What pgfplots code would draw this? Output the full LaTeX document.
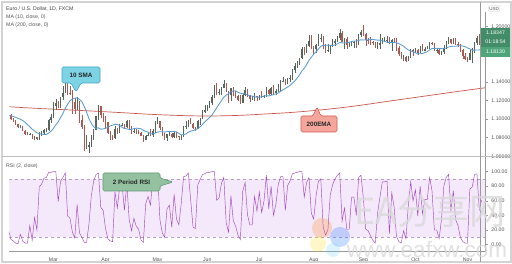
\documentclass[border=0pt]{standalone}
\usepackage{pgfplots}
\usepackage{pgfplotstable}
\pgfplotsset{compat=1.18}
\usepackage{fontspec}
\setmainfont{Liberation Sans}
\newfontfamily\cjk{Noto Sans CJK SC}
\definecolor{upc}{HTML}{56665A}
\definecolor{dnc}{HTML}{A85A52}
\definecolor{smac}{HTML}{5B9BD0}
\definecolor{emac}{HTML}{C9574A}
\definecolor{rsic}{HTML}{A246C0}
\definecolor{bandc}{HTML}{F4E8FB}
\definecolor{bandl}{HTML}{B9A0C8}
\definecolor{axc}{HTML}{9A9A9A}
\definecolor{txc}{HTML}{555555}
\definecolor{framec}{HTML}{D3D3D3}
\definecolor{smabox}{HTML}{7DD3E4}
\definecolor{smabd}{HTML}{3BA9C4}
\definecolor{emabox}{HTML}{F4A69D}
\definecolor{emabd}{HTML}{D45A4E}
\definecolor{rsibox}{HTML}{94C2A0}
\definecolor{rsibd}{HTML}{5E9A70}
\definecolor{pricec}{HTML}{4FA57A}
\newcommand{\tv}{\fontsize{5.2}{6}\selectfont}

\pgfplotstableread{
x o h l c s r
0 1.1093 1.1100 1.1040 1.1060 1.1049 33
1 1.1060 1.1065 1.1020 1.1045 1.1045 22
2 1.1045 1.1050 1.0990 1.1000 1.1036 7
3 1.1000 1.1015 1.0970 1.0980 1.1028 5
4 1.0980 1.0990 1.0940 1.0945 1.1020 2
5 1.0945 1.0950 1.0905 1.0910 1.1009 1
6 1.0910 1.0935 1.0900 1.0915 1.0999 14
7 1.0915 1.0925 1.0870 1.0875 1.0985 5
8 1.0875 1.0880 1.0830 1.0840 1.0966 2
9 1.0840 1.0865 1.0825 1.0830 1.0940 2
10 1.0830 1.0850 1.0825 1.0837 1.0918 26
11 1.0837 1.0845 1.0785 1.0790 1.0892 6
12 1.0790 1.0815 1.0780 1.0805 1.0873 37
13 1.0805 1.0810 1.0778 1.0785 1.0853 20
14 1.0785 1.0865 1.0780 1.0846 1.0843 79
15 1.0846 1.0870 1.0815 1.0855 1.0838 83
16 1.0855 1.0890 1.0840 1.0880 1.0834 91
17 1.0880 1.0905 1.0860 1.0883 1.0835 92
18 1.0883 1.1000 1.0875 1.0995 1.0851 99
19 1.0995 1.1055 1.0960 1.1027 1.0870 99
20 1.1027 1.1185 1.1010 1.1137 1.0900 100
21 1.1137 1.1215 1.1100 1.1175 1.0939 100
22 1.1175 1.1195 1.1115 1.1135 1.0972 59
23 1.1135 1.1240 1.1125 1.1237 1.1017 87
24 1.1237 1.1355 1.1210 1.1284 1.1061 92
25 1.1284 1.1496 1.1280 1.1450 1.1120 98
26 1.1450 1.1455 1.1260 1.1280 1.1160 39
27 1.1280 1.1355 1.1260 1.1268 1.1199 36
28 1.1268 1.1310 1.1055 1.1180 1.1217 17
29 1.1180 1.1225 1.1055 1.1105 1.1225 9
30 1.1105 1.1240 1.1095 1.1185 1.1230 55
31 1.1185 1.1195 1.0960 1.0995 1.1212 16
32 1.0995 1.1045 1.0895 1.0918 1.1190 10
33 1.0918 1.0935 1.0655 1.0695 1.1136 3
34 1.0695 1.0830 1.0675 1.0695 1.1077 3
35 1.0695 1.0750 1.0636 1.0723 1.1004 28
36 1.0723 1.0830 1.0700 1.0790 1.0955 67
37 1.0790 1.0890 1.0770 1.0885 1.0917 87
38 1.0885 1.1035 1.0880 1.1030 1.0902 96
39 1.1030 1.1147 1.0995 1.1140 1.0906 98
40 1.1140 1.1145 1.1010 1.1040 1.0891 51
41 1.1040 1.1065 1.0970 1.1030 1.0895 47
42 1.1030 1.1035 1.0905 1.0965 1.0899 22
43 1.0965 1.0970 1.0845 1.0855 1.0915 8
44 1.0855 1.0870 1.0780 1.0805 1.0926 5
45 1.0805 1.0830 1.0770 1.0795 1.0935 4
46 1.0795 1.0925 1.0790 1.0890 1.0944 72
47 1.0890 1.0905 1.0835 1.0860 1.0941 50
48 1.0860 1.0950 1.0855 1.0935 1.0932 80
49 1.0935 1.0955 1.0925 1.0940 1.0912 82
50 1.0940 1.0950 1.0900 1.0915 1.0899 47
51 1.0915 1.0990 1.0900 1.0985 1.0895 84
52 1.0985 1.0990 1.0880 1.0910 1.0889 34
53 1.0910 1.0925 1.0840 1.0860 1.0890 19
54 1.0860 1.0895 1.0855 1.0875 1.0897 36
55 1.0875 1.0890 1.0845 1.0860 1.0903 25
56 1.0860 1.0885 1.0840 1.0855 1.0900 21
57 1.0855 1.0865 1.0815 1.0820 1.0896 6
58 1.0820 1.0830 1.0757 1.0780 1.0880 3
59 1.0780 1.0830 1.0770 1.0820 1.0868 56
60 1.0820 1.0865 1.0815 1.0830 1.0860 66
61 1.0830 1.0890 1.0815 1.0825 1.0844 54
62 1.0825 1.0895 1.0810 1.0875 1.0840 90
63 1.0875 1.0975 1.0850 1.0955 1.0850 97
64 1.0955 1.1020 1.0950 1.0980 1.0860 98
65 1.0980 1.0985 1.0880 1.0905 1.0865 34
66 1.0905 1.0915 1.0820 1.0835 1.0863 16
67 1.0835 1.0850 1.0780 1.0795 1.0860 10
68 1.0795 1.0845 1.0765 1.0835 1.0866 49
69 1.0835 1.0875 1.0820 1.0840 1.0868 54
70 1.0840 1.0850 1.0795 1.0807 1.0865 24
71 1.0807 1.0865 1.0800 1.0850 1.0868 69
72 1.0850 1.0860 1.0795 1.0815 1.0862 35
73 1.0815 1.0820 1.0775 1.0805 1.0847 27
74 1.0805 1.0830 1.0780 1.0820 1.0831 56
75 1.0820 1.0925 1.0810 1.0920 1.0832 93
76 1.0920 1.0975 1.0890 1.0925 1.0841 94
77 1.0925 1.0995 1.0915 1.0975 1.0859 98
78 1.0975 1.1010 1.0945 1.0950 1.0871 61
79 1.0950 1.0955 1.0890 1.0900 1.0877 24
80 1.0900 1.0910 1.0875 1.0895 1.0886 22
81 1.0895 1.0990 1.0890 1.0975 1.0898 82
82 1.0975 1.1010 1.0935 1.1005 1.0917 89
83 1.1005 1.1095 1.1000 1.1075 1.0944 96
84 1.1075 1.1147 1.1070 1.1100 1.0972 97
85 1.1100 1.1155 1.1090 1.1135 1.0994 99
86 1.1135 1.1195 1.1115 1.1170 1.1018 99
87 1.1170 1.1255 1.1150 1.1235 1.1044 100
88 1.1235 1.1365 1.1225 1.1340 1.1083 100
89 1.1340 1.1385 1.1255 1.1290 1.1122 61
90 1.1290 1.1325 1.1260 1.1295 1.1162 64
91 1.1295 1.1350 1.1265 1.1340 1.1199 84
92 1.1340 1.1422 1.1330 1.1375 1.1236 92
93 1.1375 1.1385 1.1295 1.1300 1.1258 30
94 1.1300 1.1305 1.1170 1.1255 1.1274 17
95 1.1255 1.1335 1.1200 1.1330 1.1293 67
96 1.1330 1.1350 1.1245 1.1265 1.1303 33
97 1.1265 1.1300 1.1230 1.1245 1.1304 25
98 1.1245 1.1260 1.1200 1.1205 1.1290 13
99 1.1205 1.1255 1.1168 1.1175 1.1279 7
100 1.1175 1.1270 1.1170 1.1260 1.1275 73
101 1.1260 1.1350 1.1245 1.1310 1.1272 85
102 1.1310 1.1320 1.1240 1.1250 1.1260 41
103 1.1250 1.1255 1.1185 1.1220 1.1252 27
104 1.1220 1.1250 1.1205 1.1220 1.1248 27
105 1.1220 1.1285 1.1200 1.1245 1.1240 66
106 1.1245 1.1250 1.1190 1.1235 1.1237 46
107 1.1235 1.1260 1.1205 1.1250 1.1237 72
108 1.1250 1.1305 1.1225 1.1240 1.1241 44
109 1.1240 1.1255 1.1225 1.1245 1.1248 60
110 1.1245 1.1345 1.1240 1.1310 1.1253 95
111 1.1310 1.1325 1.1260 1.1275 1.1249 49
112 1.1275 1.1345 1.1260 1.1330 1.1257 80
113 1.1330 1.1370 1.1270 1.1285 1.1264 40
114 1.1285 1.1325 1.1260 1.1300 1.1272 55
115 1.1300 1.1375 1.1295 1.1345 1.1282 82
116 1.1345 1.1420 1.1300 1.1410 1.1299 93
117 1.1410 1.1450 1.1395 1.1410 1.1315 93
118 1.1410 1.1430 1.1370 1.1385 1.1330 47
119 1.1385 1.1445 1.1375 1.1430 1.1348 81
120 1.1430 1.1470 1.1400 1.1445 1.1362 87
121 1.1445 1.1540 1.1420 1.1525 1.1387 97
122 1.1525 1.1600 1.1500 1.1570 1.1411 98
123 1.1570 1.1625 1.1555 1.1595 1.1442 99
124 1.1595 1.1660 1.1585 1.1655 1.1477 100
125 1.1655 1.1780 1.1650 1.1755 1.1518 100
126 1.1755 1.1780 1.1690 1.1715 1.1549 65
127 1.1715 1.1805 1.1710 1.1790 1.1587 85
128 1.1790 1.1910 1.1780 1.1845 1.1633 92
129 1.1845 1.1905 1.1760 1.1775 1.1667 43
130 1.1775 1.1790 1.1695 1.1760 1.1699 35
131 1.1760 1.1810 1.1710 1.1800 1.1726 67
132 1.1800 1.1915 1.1790 1.1860 1.1755 87
133 1.1860 1.1915 1.1835 1.1875 1.1783 90
134 1.1875 1.1890 1.1755 1.1785 1.1796 24
135 1.1785 1.1805 1.1710 1.1735 1.1794 13
136 1.1735 1.1805 1.1725 1.1740 1.1797 20
137 1.1740 1.1795 1.1705 1.1785 1.1796 68
138 1.1785 1.1865 1.1775 1.1815 1.1793 82
139 1.1815 1.1865 1.1790 1.1840 1.1800 90
140 1.1840 1.1895 1.1830 1.1870 1.1811 95
141 1.1870 1.1966 1.1855 1.1930 1.1824 98
142 1.1930 1.1950 1.1830 1.1835 1.1821 32
143 1.1835 1.1875 1.1755 1.1860 1.1820 50
144 1.1860 1.1885 1.1755 1.1795 1.1821 21
145 1.1795 1.1835 1.1780 1.1795 1.1827 21
146 1.1795 1.1835 1.1785 1.1830 1.1836 65
147 1.1830 1.1840 1.1770 1.1830 1.1840 65
148 1.1830 1.1865 1.1765 1.1820 1.1841 40
149 1.1820 1.1915 1.1800 1.1905 1.1847 92
150 1.1905 1.1965 1.1885 1.1935 1.1854 95
151 1.1935 1.2011 1.1900 1.1915 1.1852 63
152 1.1915 1.1925 1.1790 1.1855 1.1854 21
153 1.1855 1.1870 1.1810 1.1850 1.1853 19
154 1.1850 1.1885 1.1795 1.1835 1.1857 12
155 1.1835 1.1840 1.1800 1.1815 1.1859 6
156 1.1815 1.1830 1.1765 1.1780 1.1854 2
157 1.1780 1.1830 1.1755 1.1800 1.1851 43
158 1.1800 1.1915 1.1755 1.1815 1.1851 65
159 1.1815 1.1870 1.1810 1.1845 1.1845 86
160 1.1845 1.1885 1.1830 1.1845 1.1836 86
161 1.1845 1.1890 1.1825 1.1845 1.1829 87
162 1.1845 1.1880 1.1805 1.1815 1.1825 15
163 1.1815 1.1860 1.1735 1.1850 1.1825 71
164 1.1850 1.1870 1.1820 1.1840 1.1825 51
165 1.1840 1.1870 1.1735 1.1770 1.1821 11
166 1.1770 1.1785 1.1680 1.1705 1.1813 4
167 1.1705 1.1720 1.1650 1.1660 1.1799 2
168 1.1660 1.1690 1.1625 1.1670 1.1785 19
169 1.1670 1.1675 1.1612 1.1630 1.1763 8
170 1.1630 1.1685 1.1625 1.1665 1.1745 54
171 1.1665 1.1750 1.1655 1.1745 1.1735 86
172 1.1745 1.1755 1.1685 1.1720 1.1726 60
173 1.1720 1.1765 1.1710 1.1745 1.1715 75
174 1.1745 1.1750 1.1695 1.1715 1.1703 39
175 1.1715 1.1790 1.1710 1.1780 1.1704 80
176 1.1780 1.1805 1.1730 1.1735 1.1707 42
177 1.1735 1.1775 1.1730 1.1760 1.1717 62
178 1.1760 1.1785 1.1750 1.1760 1.1726 62
179 1.1760 1.1830 1.1755 1.1825 1.1745 92
180 1.1825 1.1830 1.1800 1.1815 1.1760 74
181 1.1815 1.1820 1.1735 1.1745 1.1760 20
182 1.1745 1.1770 1.1715 1.1745 1.1763 20
183 1.1745 1.1755 1.1690 1.1705 1.1759 8
184 1.1705 1.1735 1.1690 1.1718 1.1759 34
185 1.1718 1.1795 1.1705 1.1770 1.1758 80
186 1.1770 1.1840 1.1760 1.1820 1.1766 92
187 1.1820 1.1880 1.1805 1.1860 1.1776 96
188 1.1860 1.1865 1.1805 1.1815 1.1782 46
189 1.1815 1.1870 1.1810 1.1860 1.1785 74
190 1.1860 1.1870 1.1800 1.1810 1.1785 34
191 1.1810 1.1830 1.1780 1.1795 1.1790 26
192 1.1795 1.1805 1.1720 1.1745 1.1790 10
193 1.1745 1.1760 1.1650 1.1675 1.1787 4
194 1.1675 1.1710 1.1640 1.1645 1.1780 2
195 1.1645 1.1670 1.1620 1.1640 1.1767 2
196 1.1640 1.1745 1.1635 1.1715 1.1756 76
197 1.1715 1.1770 1.1603 1.1720 1.1742 79
198 1.1720 1.1830 1.1710 1.1825 1.1743 96
199 1.1825 1.1890 1.1795 1.1875 1.1745 97
200 1.1875 1.1920 1.1800 1.1815 1.1745 48
201 1.1815 1.1860 1.1805 1.1835 1.1749 61
}\data

\pgfplotsset{tvaxis/.style={scale only axis, width=476pt, xmin=1.4, xmax=202.6,
  axis line style={axc, line width=0.6pt}, tick style={axc, line width=0.5pt},
  tick label style={font=\tv, text=txc},
  /pgf/number format/assume math mode=true, tick align=outside}}

\begin{document}
\begin{tikzpicture}[x=1pt,y=1pt]
\useasboundingbox (0,0) rectangle (512,264);
\clip (0,0) rectangle (512,264);
\fill[white] (0,0) rectangle (512,264);

% ---------- price panel ----------
\begin{axis}[tvaxis, at={(4,109)}, anchor=south west, height=151pt,
  ymin=1.0530, ymax=1.2156, axis x line=none, axis y line*=right,
  xtick=\empty, ytick={1.06,1.08,1.10,1.12,1.14,1.20},
  major tick length=2.5pt,
  yticklabel style={/pgf/number format/.cd, fixed, fixed zerofill, precision=5}]
\addplot[emac, line width=0.7pt, no marks, smooth] coordinates {
(0,1.1135) (10,1.1120) (20,1.1107) (30,1.1095) (40,1.1082) (50,1.1068)
(60,1.1053) (70,1.1042) (80,1.1035) (90,1.1035) (100,1.1042) (110,1.1056)
(120,1.1071) (130,1.1092) (140,1.1118) (150,1.1150) (160,1.1187)
(170,1.1223) (180,1.1259) (190,1.1295) (202.6,1.1338)};
% wicks
\addplot[upc, line width=0.45pt, no marks, -,
  restrict expr to domain={\thisrow{c}-\thisrow{o}}{0:1},
  quiver={u=0, v={\thisrow{h}-\thisrow{l}}}]
  table[x=x, y=l] {\data};
\addplot[dnc, line width=0.45pt, no marks, -,
  restrict expr to domain={\thisrow{c}-\thisrow{o}}{-1:-0.00001},
  quiver={u=0, v={\thisrow{h}-\thisrow{l}}}]
  table[x=x, y=l] {\data};
% bodies
\addplot[upc, line width=1.25pt, no marks, -,
  restrict expr to domain={\thisrow{c}-\thisrow{o}}{0:1},
  quiver={u=0, v={max(\thisrow{c}-\thisrow{o},0.0002)}}]
  table[x=x, y=o] {\data};
\addplot[dnc, line width=1.25pt, no marks, -,
  restrict expr to domain={\thisrow{c}-\thisrow{o}}{-1:-0.00001},
  quiver={u=0, v={\thisrow{o}-\thisrow{c}}}]
  table[x=x, y=c] {\data};
% 10 SMA
\addplot[smac, line width=0.85pt, no marks] table[x=x, y=s] {\data};
\end{axis}

% ---------- RSI panel ----------
\begin{axis}[tvaxis, at={(4,17)}, anchor=south west, height=90pt,
  ymin=-9.6, ymax=113.7, axis x line*=bottom, axis y line*=right,
  xtick={20,42,64,85,107,130,151,173,195},
  xticklabels={Mar,Apr,May,Jun,Jul,Aug,Sep,Oct,Nov},
  xtick style={draw=none}, xticklabel style={yshift=-0.5pt},
  ytick={0,20,40,60,80,100}, major tick length=2.5pt,
  yticklabel style={/pgf/number format/.cd, fixed, fixed zerofill, precision=2}]
\addplot[draw=none, fill=bandc] coordinates {(1.4,10) (202.6,10) (202.6,90) (1.4,90)};
\addplot[bandl, dashed, line width=0.4pt] coordinates {(1.4,90) (202.6,90)};
\addplot[bandl, dashed, line width=0.4pt] coordinates {(1.4,10) (202.6,10)};
\addplot[rsic, line width=0.45pt, no marks] table[x=x, y=r] {\data};
\end{axis}

% ---------- frame and separators ----------
\draw[framec, line width=1.3pt] (2,2) rectangle (511,262);
\draw[framec!90!black, line width=1.3pt] (2,107.5) -- (511,107.5);
\draw[axc, line width=0.6pt] (480,2) -- (480,262);

% ---------- header texts ----------
\node[anchor=west, font=\tv, text=black!75, inner sep=0] at (6,255) {Euro / U.S. Dollar, 1D, FXCM};
\node[anchor=west, font=\tv, text=txc, inner sep=0] at (6,247) {MA (10, close, 0)};
\node[anchor=west, font=\tv, text=txc, inner sep=0] at (6,239) {MA (200, close, 0)};
\node[anchor=west, font=\tv, text=txc, inner sep=0] at (6,98) {RSI (2, close)};
\node[draw=framec, font=\fontsize{4.5}{5}\selectfont, text=txc, inner sep=1pt, rounded corners=1pt] at (494,255.5) {USD};

% ---------- price labels ----------
\fill[pricec!85!black] (481,217) rectangle (510,236);
\fill[pricec] (481,207) rectangle (510,216.6);
\node[font=\tv, text=white] at (495.5,231) {1.18347};
\node[font=\tv, text=white] at (495.5,221.8) {01:18:54};
\node[font=\tv, text=white] at (495.5,211.8) {1.18130};

% ---------- callouts ----------
\draw[smabd, fill=smabox, line width=0.6pt, rounded corners=1.5pt]
  (62,181) -- (71,181) -- (76,172) -- (81,181) -- (100,181) -- (100,197) -- (62,197) -- cycle;
\node[font=\bfseries\fontsize{6.3}{7}\selectfont, text=black!85] at (81,189) {10 SMA};
\draw[emabd, fill=emabox, line width=0.6pt, rounded corners=1.5pt]
  (301,132) -- (337,132) -- (337,148) -- (321,148) -- (317,157) -- (313,148) -- (301,148) -- cycle;
\node[font=\bfseries\fontsize{6.3}{7}\selectfont, text=black!85] at (319,140) {200EMA};
\draw[rsibd, fill=rsibox, line width=0.6pt, rounded corners=1.5pt]
  (103,73) -- (160,73) -- (160,78) -- (173,82) -- (160,86) -- (160,91) -- (103,91) -- cycle;
\node[font=\bfseries\fontsize{6.3}{7}\selectfont, text=black!85] at (131.5,82) {2 Period RSI};

% ---------- watermark ----------
\fill[orange, opacity=0.22] (322,36) circle (10);
\fill[yellow!80!orange, opacity=0.22] (318,20) circle (8);
\fill[blue!60!cyan, opacity=0.22] (340,27) circle (10);
\fill[cyan!60, opacity=0.22] (333,14) circle (7);
\node[font=\cjk\fontsize{36}{36}\selectfont, text=gray!30, opacity=0.8] at (430,53) {EA分享网};
\node[font=\fontsize{22.5}{23}\selectfont, text=gray!30, opacity=0.8] at (427,15) {www.eafxw.com};
\end{tikzpicture}
\end{document}
